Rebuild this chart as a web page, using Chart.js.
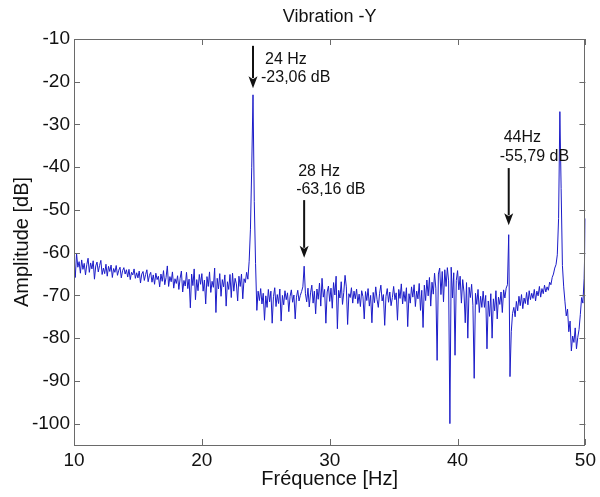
<!DOCTYPE html>
<html>
<head>
<meta charset="utf-8">
<script src="https://cdn.jsdelivr.net/npm/chart.js@4/dist/chart.umd.min.js"></script>
<style>
  html, body { margin: 0; padding: 0; background: #ffffff; }
  #wrap { width: 600px; height: 497px; position: relative; }
</style>
</head>
<body>
<div id="wrap"><canvas id="c"></canvas></div>
<script>
// ---- data ----
const chartTitle = "Vibration -Y";
const xAxisTitle = "Fréquence [Hz]";
const yAxisTitle = "Amplitude [dB]";
const xTickValues = [10, 20, 30, 40, 50];
const yTickValues = [-100, -90, -80, -70, -60, -50, -40, -30, -20, -10];
const freqStart = 10;   // Hz, first sample
const freqStep = 0.1;   // Hz between samples
// amplitude in dB, one row per Hz (10.0 .. 49.9), then 50.0
const amplitudeDb = [
  -61.5,-65.8,-60.2,-63.4,-62.1,-64.8,-61.7,-63.9,-62.5,-65.2,
  -62.8,-61.3,-64.6,-62.4,-63.8,-61.9,-66.2,-63.1,-62.2,-64.5,
  -63.0,-61.8,-65.1,-63.6,-64.9,-62.7,-65.5,-63.2,-64.4,-62.9,
  -65.8,-63.7,-64.6,-63.0,-65.3,-64.1,-63.4,-65.9,-64.2,-63.5,
  -65.0,-64.0,-65.7,-63.9,-66.3,-64.6,-65.2,-63.8,-66.0,-64.7,
  -65.9,-64.3,-67.1,-65.0,-64.4,-66.5,-65.1,-64.0,-66.8,-65.3,
  -64.6,-66.9,-65.2,-67.4,-64.8,-66.3,-65.5,-68.0,-65.0,-66.7,
  -64.2,-67.5,-65.8,-63.1,-67.9,-65.6,-66.8,-64.5,-68.3,-66.1,
  -67.2,-65.4,-68.6,-66.0,-64.3,-69.2,-66.5,-67.8,-64.6,-68.4,
  -66.2,-72.9,-65.0,-67.7,-63.8,-71.0,-66.3,-68.9,-65.1,-67.4,
  -64.9,-69.0,-66.4,-72.0,-65.6,-67.9,-64.5,-69.3,-66.7,-68.1,
  -63.6,-74.0,-66.0,-68.5,-64.9,-70.2,-66.3,-68.0,-65.2,-72.5,
  -66.8,-68.6,-65.1,-70.5,-64.8,-69.0,-66.0,-67.3,-71.3,-65.5,
  -67.9,-65.0,-70.8,-66.1,-67.0,-64.6,-66.2,-62.0,-54.5,-40.0,
  -23.06,-48.0,-62.5,-73.5,-69.0,-71.2,-68.4,-72.0,-69.5,-75.8,
  -70.1,-72.8,-68.6,-71.5,-69.0,-76.5,-70.3,-68.2,-72.6,-69.8,
  -71.9,-68.5,-76.0,-70.0,-72.2,-68.9,-71.0,-69.4,-73.8,-70.2,
  -68.7,-71.6,-69.9,-75.5,-70.4,-68.8,-71.3,-70.0,-69.1,-68.0,
  -63.16,-69.6,-71.5,-68.3,-72.7,-69.4,-67.6,-71.8,-69.0,-74.3,
  -68.5,-70.9,-67.1,-72.5,-66.0,-70.4,-68.6,-76.5,-69.2,-67.8,
  -71.4,-68.3,-73.0,-67.0,-69.9,-65.5,-77.8,-68.8,-70.6,-66.8,
  -72.1,-69.3,-65.3,-68.0,-76.8,-69.6,-70.5,-68.2,-71.8,-69.0,
  -70.8,-68.5,-71.9,-69.7,-72.6,-68.9,-70.3,-75.5,-69.1,-71.2,
  -68.4,-72.5,-70.0,-76.4,-69.3,-71.7,-68.0,-70.9,-72.8,-69.5,
  -67.6,-71.3,-69.8,-77.0,-70.2,-68.4,-71.6,-69.2,-72.4,-70.5,
  -67.9,-71.0,-69.4,-75.8,-68.6,-70.7,-67.3,-72.0,-69.1,-71.4,
  -68.2,-77.3,-69.6,-71.8,-68.0,-70.4,-67.5,-72.6,-69.0,-70.8,
  -67.2,-73.5,-68.8,-77.5,-67.6,-71.2,-66.4,-70.1,-65.8,-72.5,
  -66.9,-69.7,-64.8,-68.3,-85.2,-65.0,-63.6,-69.8,-64.4,-71.5,
  -64.0,-67.9,-63.5,-66.6,-100.0,-63.4,-70.6,-64.7,-84.0,-66.5,
  -64.2,-68.7,-65.5,-71.8,-66.3,-69.2,-76.4,-67.0,-80.0,-68.1,
  -70.5,-67.4,-72.3,-89.4,-69.5,-72.1,-68.6,-74.0,-70.2,-72.8,
  -69.0,-72.8,-70.0,-82.5,-71.3,-74.9,-69.6,-80.0,-70.8,-73.6,
  -68.9,-75.5,-70.4,-72.1,-69.2,-74.0,-68.7,-70.6,-68.3,-67.5,
  -55.79,-89.0,-78.5,-74.2,-72.8,-75.0,-71.4,-73.6,-70.2,-72.4,
  -69.8,-73.1,-70.6,-71.9,-69.3,-72.2,-68.9,-71.0,-69.5,-70.7,
  -68.6,-71.3,-69.0,-70.1,-67.9,-70.4,-68.4,-69.6,-67.6,-69.2,
  -68.0,-68.8,-66.9,-67.5,-65.8,-65.0,-63.6,-62.8,-60.5,-52.0,
  -27.0,-45.0,-63.0,-68.0,-71.5,-74.8,-73.2,-78.5,-76.0,-83.0,
  -79.5,-81.0,-77.6,-82.5,-79.8,-78.0,-74.5,-70.5,-71.8,-66.0,
  -52.0
];
// annotated peaks
const peakFreq = [24, 28, 44];
const peakFreqText = ["24 Hz", "28 Hz", "44Hz"];
const peakDbText = ["-23,06 dB", "-63,16 dB", "-55,79 dB"];
const arrowTopDb = [-11.6, -47.7, -40.2];
const arrowTipDb = [-21.5, -61.2, -53.6];

// ---- build ----
const points = amplitudeDb.map((v, i) => ({ x: +(freqStart + i * freqStep).toFixed(2), y: v }));
const FONT = "'Liberation Sans', Arial, Helvetica, sans-serif";

// label placement relative to arrow (px)
const labelLayout = [
  { dx1: 12, dy1: 60, dx2: 8, dy2: 78 },
  { dx1: -6, dy1: 172, dx2: -8, dy2: 190 },
  { dx1: -5, dy1: 138, dx2: -9, dy2: 157 }
];

const frameAndAnnot = {
  id: 'frameAndAnnot',
  afterDatasetsDraw(chart) {
    const { ctx, chartArea: a, scales: { x, y } } = chart;
    ctx.save();
    // title, centred over the plot area
    ctx.fillStyle = '#111';
    ctx.font = "18px " + FONT;
    ctx.textAlign = 'center';
    ctx.textBaseline = 'middle';
    ctx.fillText(chartTitle, (a.left + a.right) / 2, 17);
    // box
    ctx.strokeStyle = '#6a6a6a';
    ctx.lineWidth = 1;
    ctx.strokeRect(Math.round(a.left) + 0.5, Math.round(a.top) + 0.5,
      Math.round(a.right - a.left) - 1, Math.round(a.bottom - a.top));
    // inward ticks
    const tl = 6;
    ctx.beginPath();
    xTickValues.forEach(v => {
      const px = Math.round(x.getPixelForValue(v)) + 0.5;
      ctx.moveTo(px, a.bottom); ctx.lineTo(px, a.bottom - tl);
      ctx.moveTo(px, a.top); ctx.lineTo(px, a.top + tl);
    });
    yTickValues.forEach(v => {
      const py = Math.round(y.getPixelForValue(v)) + 0.5;
      ctx.moveTo(a.left, py); ctx.lineTo(a.left + tl, py);
      ctx.moveTo(a.right, py); ctx.lineTo(a.right - tl, py);
    });
    ctx.stroke();
    // arrows + labels
    ctx.fillStyle = '#111';
    ctx.strokeStyle = '#111';
    peakFreq.forEach((f, i) => {
      const px = x.getPixelForValue(f);
      const y0 = y.getPixelForValue(arrowTopDb[i]);
      const y1 = y.getPixelForValue(arrowTipDb[i]);
      const head = 12, hw = 4.5;
      ctx.lineWidth = 2;
      ctx.beginPath();
      ctx.moveTo(px, y0); ctx.lineTo(px, y1 - head + 2);
      ctx.stroke();
      ctx.beginPath();
      ctx.moveTo(px - hw, y1 - head);
      ctx.lineTo(px, y1 - head + 3);
      ctx.lineTo(px + hw, y1 - head);
      ctx.lineTo(px, y1);
      ctx.closePath();
      ctx.fill();
      const L = labelLayout[i];
      ctx.font = "16px " + FONT;
      ctx.textAlign = 'left';
      ctx.textBaseline = 'middle';
      ctx.fillText(peakFreqText[i], px + L.dx1, L.dy1);
      ctx.fillText(peakDbText[i], px + L.dx2, L.dy2);
    });
    ctx.restore();
  }
};

new Chart(document.getElementById('c'), {
  type: 'line',
  data: {
    datasets: [{
      data: points,
      borderColor: '#1c1cc8',
      borderWidth: 1,
      pointRadius: 0,
      tension: 0,
      fill: false
    }]
  },
  options: {
    responsive: true,
    maintainAspectRatio: false,
    animation: false,
    events: [],
    layout: { padding: { top: 39, right: 14, bottom: 0, left: 0 } },
    plugins: {
      legend: { display: false },
      tooltip: { enabled: false },
      title: { display: false }
    },
    scales: {
      x: {
        type: 'linear',
        min: 10, max: 50,
        grid: { display: false, drawTicks: false },
        border: { display: false },
        afterBuildTicks: s => { s.ticks = xTickValues.map(v => ({ value: v })); },
        afterFit: s => { s.height = 52; },
        ticks: { color: '#111', padding: 4, font: { family: FONT, size: 19 }, maxRotation: 0 },
        title: {
          display: true, text: xAxisTitle, color: '#111',
          font: { family: FONT, size: 20 }, padding: { top: 0, bottom: 6 }
        }
      },
      y: {
        type: 'linear',
        min: -105, max: -10,
        grid: { display: false, drawTicks: false },
        border: { display: false },
        afterBuildTicks: s => { s.ticks = yTickValues.map(v => ({ value: v })); },
        afterFit: s => { s.width = 74; },
        ticks: { color: '#111', padding: 4, font: { family: FONT, size: 19 } },
        title: {
          display: true, text: yAxisTitle, color: '#111',
          font: { family: FONT, size: 20 }, padding: { top: 10, bottom: 0 }
        }
      }
    }
  },
  plugins: [frameAndAnnot]
});
</script>
</body>
</html>
